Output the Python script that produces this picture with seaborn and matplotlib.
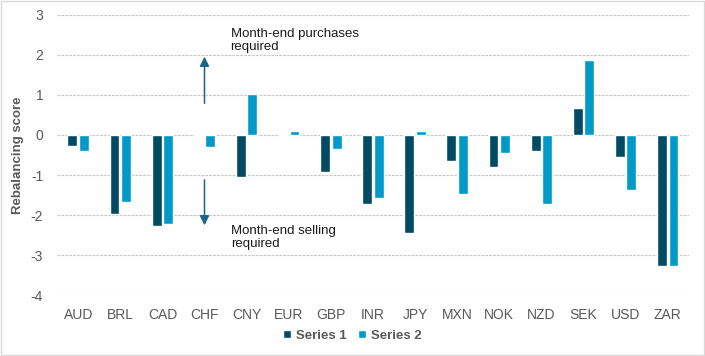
import matplotlib
matplotlib.use('Agg')
import matplotlib.pyplot as plt
import pandas as pd
import seaborn as sns

currencies = ['AUD', 'BRL', 'CAD', 'CHF', 'CNY', 'EUR', 'GBP', 'INR',
              'JPY', 'MXN', 'NOK', 'NZD', 'SEK', 'USD', 'ZAR']
series1 = [-0.28, -1.98, -2.26, 0.0, -1.04, -0.03, -0.93, -1.71,
           -2.44, -0.66, -0.81, -0.41, 0.68, -0.56, -3.27]
series2 = [-0.41, -1.66, -2.23, -0.31, 1.03, 0.09, -0.36, -1.58,
           0.10, -1.46, -0.46, -1.73, 1.86, -1.38, -3.27]
series_names = ['Series 1', 'Series 2']
colors = ['#004B63', '#0099C8']

df = pd.DataFrame({'ccy': currencies * 2,
                   'score': series1 + series2,
                   'series': [series_names[0]] * len(currencies) + [series_names[1]] * len(currencies)})

sns.set_style('white')
plt.rcParams['font.family'] = ['Liberation Sans', 'DejaVu Sans']
plt.rcParams['axes.unicode_minus'] = False

fig = plt.figure(figsize=(7.05, 3.56), dpi=100)
ax = fig.add_axes([0.081, 0.170, 0.896, 0.789])

sns.barplot(data=df, x='ccy', y='score', hue='series', palette=colors,
            width=0.55, gap=0.15, ax=ax, saturation=1, legend=True)

ax.set_ylim(-4, 3)
ax.set_xlim(-0.5, len(currencies) - 0.5)
ax.set_yticks(range(-4, 4))
ax.yaxis.grid(True, color='#C8C8C8', linestyle=(0, (2.5, 1)), linewidth=0.8)
ax.set_axisbelow(True)
for s in ax.spines.values():
    s.set_visible(False)
ax.tick_params(axis='both', length=0, labelsize=10, labelcolor='#595959', pad=9)
ax.tick_params(axis='y', pad=10)
ax.set_xlabel('')
ax.set_ylabel('Rebalancing score', fontsize=9.5, fontweight='bold', color='#595959')
ax.yaxis.set_label_coords(-0.052, 0.5)

# arrows and notes
arrow_c = '#1B6688'
ax.annotate('', xy=(3.0, 2.02), xytext=(3.0, 0.72),
            arrowprops=dict(arrowstyle='-|>', color=arrow_c, lw=1.1, mutation_scale=14))
ax.annotate('', xy=(3.0, -2.32), xytext=(3.0, -1.05),
            arrowprops=dict(arrowstyle='-|>', color=arrow_c, lw=1.1, mutation_scale=14))
ax.text(3.62, 2.36, 'Month-end purchases\nrequired', fontsize=9.5, color='#1a1a1a',
        va='center', ha='left', linespacing=1.1)
ax.text(3.64, -2.56, 'Month-end selling\nrequired', fontsize=9.5, color='#1a1a1a',
        va='center', ha='left', linespacing=1.1)

leg = ax.legend(loc='upper center', bbox_to_anchor=(0.467, -0.08), ncol=2, frameon=False,
                handlelength=0.6, handleheight=0.6, handletextpad=0.35, columnspacing=0.9,
                prop={'size': 9.5, 'weight': 'bold'})
for t in leg.get_texts():
    t.set_color('#595959')

fig.patches.append(plt.Rectangle((0.001, 0.002), 0.997, 0.995, transform=fig.transFigure,
                                 fill=False, edgecolor='#D9D9D9', linewidth=1))

fig.savefig('out.png', dpi=100)
